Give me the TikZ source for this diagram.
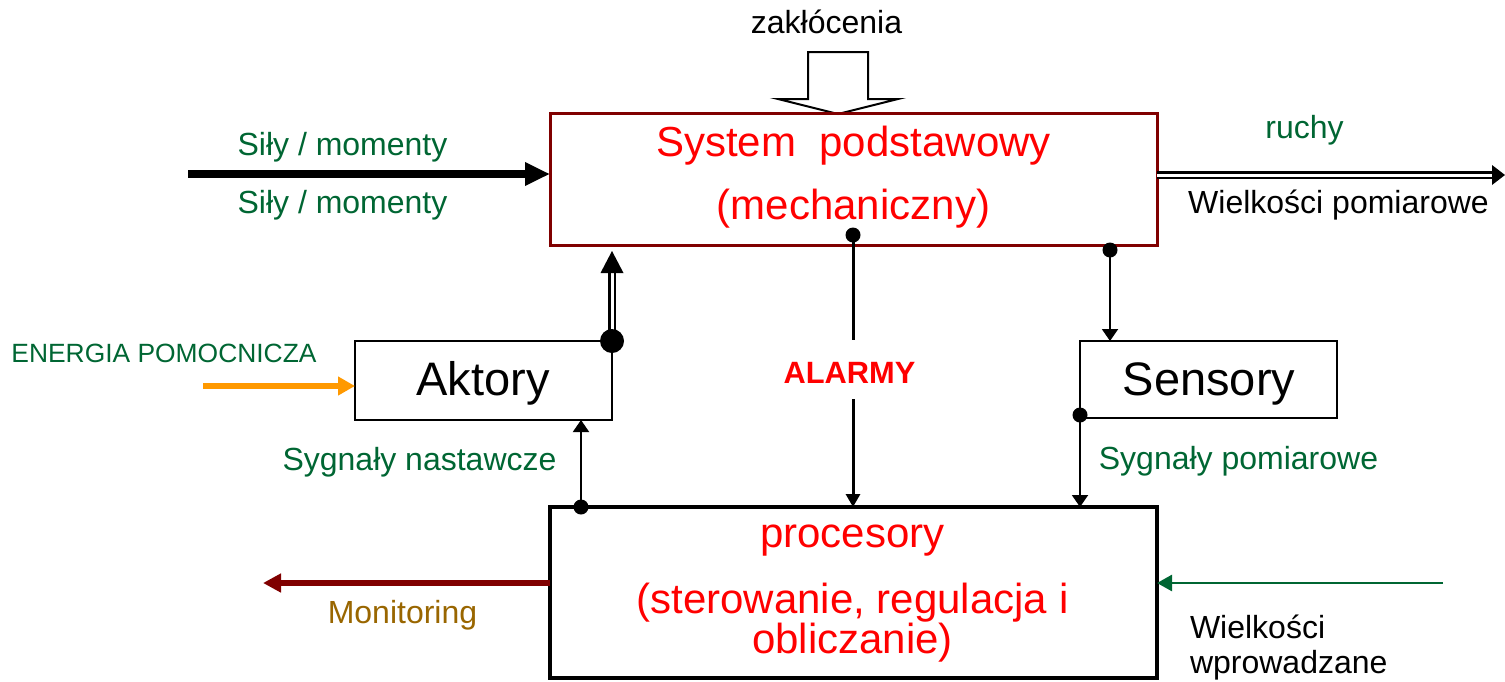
\documentclass[tikz,border=0pt]{standalone}
\usepackage{fontspec}
\setmainfont{Liberation Sans}
\usetikzlibrary{arrows.meta}
\definecolor{framered}{RGB}{128,0,0}
\definecolor{labelgreen}{RGB}{0,102,51}
\definecolor{signalred}{RGB}{255,0,0}
\definecolor{monbrown}{RGB}{153,102,0}
\definecolor{energyorange}{RGB}{255,153,0}
\begin{document}
\begin{tikzpicture}[x=0.5pt,y=-0.5pt,
  every node/.style={inner sep=0pt,outer sep=0pt},
  fs/.style={font=\fontsize{16}{19}\selectfont},
  fl/.style={font=\fontsize{21}{25}\selectfont},
  fb/.style={font=\fontsize{23.5}{28}\selectfont},
  blockbox/.style={draw=black,line width=1pt},
  thinarrow/.style={line width=1pt,-{Triangle[length=6pt,width=8pt]}},
  dblshaft/.style={double,double distance=1.5pt,line width=1.15pt},
]
\useasboundingbox (0,0) rectangle (1505,681);

% disturbance input (hollow block arrow)
\draw[line width=1pt,fill=white] (808,52) -- (868,52) -- (868,99) -- (898,99)
  -- (838,114) -- (778,99) -- (808,99) -- cycle;
\node[fs,anchor=base] (zak) at (826.5,33) {zakłócenia};

% main blocks
\node[draw=framered,line width=1.5pt,minimum width=303.5pt,minimum height=66pt] (sys) at (853.5,179) {};
\node[blockbox,minimum width=128.5pt,minimum height=39.5pt] (akt) at (483.5,380.5) {};
\node[blockbox,minimum width=128.5pt,minimum height=38.5pt] (sen) at (1208.5,379.5) {};
\node[draw=black,line width=1.75pt,minimum width=303.5pt,minimum height=85.5pt] (proc) at (853.5,592.5) {};

% block texts
\node[fl,text=signalred,anchor=base] (systxt) at (853.5,156) {System~~podstawowy};
\node[fl,text=signalred,anchor=base] (sysmech) at (853.5,219) {(mechaniczny)};
\node[fb,anchor=base] (akttxt) at (483,395) {Aktory};
\node[fb,anchor=base] (sentxt) at (1209,395) {Sensory};
\node[fl,text=signalred,anchor=base] (proctxt) at (852.5,547) {procesory};
\node[fl,text=signalred,anchor=base] (proctxtb) at (852.5,613) {(sterowanie, regulacja i};
\node[fl,text=signalred,anchor=base] (proctxtc) at (852.5,653) {obliczanie)};

% forces / moments input
\coordinate (silyStart) at (188,174);
\draw[line width=4pt,-{Triangle[length=12.5pt,width=11pt]}] (silyStart) -- (silyStart -| sys.west);
\node[fs,text=labelgreen,anchor=base] (silyA) at (342.5,155) {Siły / momenty};
\node[fs,text=labelgreen,anchor=base] (silyB) at (342.5,213) {Siły / momenty};

% motion output (double line)
\coordinate (outEnd) at (1505,175);
\coordinate (outHead) at (1492,175);
\draw[dblshaft] (sys.east |- outEnd) -- (outHead);
\fill (outHead) ++(0,-10) -- (outEnd) -- ++(-13,10) -- cycle;
\node[fs,text=labelgreen,anchor=base] (ruchy) at (1304.5,138) {ruchy};
\node[fs,anchor=base] (wpom) at (1338.5,213) {Wielkości pomiarowe};

% actuators drive the mechanical system
\coordinate (dA) at (akt.north east);
\coordinate (aktHead) at (612,273);
\coordinate (aktTip) at (612,251);
\draw[dblshaft] (dA) -- (aktHead);
\fill (aktHead) ++(-11.5,0) -- (aktTip) -- ++(11.5,22) -- cycle;
\fill (dA) circle[radius=6pt];

% auxiliary energy
\coordinate (enStart) at (203,386);
\draw[energyorange,line width=3pt,-{Triangle[length=8.5pt,width=9pt]}] (enStart) -- (enStart -| akt.west);
\node[font=\fontsize{13.2}{16}\selectfont,text=labelgreen,anchor=base] (energia) at (164,362) {ENERGIA POMOCNICZA};

% control signals to actuators
\coordinate (dP) at (581,507);
\draw[thinarrow] (dP) -- (dP |- akt.south);
\fill (dP) circle[radius=3.75pt];
\node[fs,text=labelgreen,anchor=base] (nast) at (419.5,470) {Sygnały nastawcze};

% alarms
\coordinate (dAl) at (853,235);
\coordinate (alTop) at (853,340);
\coordinate (alBot) at (853,399);
\node[font=\bfseries\fontsize{15.4}{18}\selectfont,text=signalred,anchor=base] (alarm) at (849.5,383) {ALARMY};
\draw[line width=1.5pt] (dAl) -- (alTop);
\draw[line width=1.5pt,-{Triangle[length=6.5pt,width=7pt]}] (alBot) -- (alBot |- proc.north);
\fill (dAl) circle[radius=3.75pt];

% sensors
\coordinate (dS1) at (1110,250);
\draw[thinarrow] (dS1) -- (dS1 |- sen.north);
\fill (dS1) circle[radius=3.75pt];
\coordinate (dS2) at (1080,415);
\draw[thinarrow] (dS2) -- (dS2 |- proc.north);
\fill (dS2) circle[radius=3.75pt];
\node[fs,text=labelgreen,anchor=base] (pomiar) at (1238.5,469) {Sygnały pomiarowe};

% monitoring output
\coordinate (monEnd) at (263,583);
\draw[framered,line width=2.75pt,-{Triangle[length=9pt,width=9pt]}] (monEnd -| proc.west) -- (monEnd);
\node[fs,text=monbrown,anchor=base] (monit) at (402.5,623) {Monitoring};

% set-point input
\coordinate (inStart) at (1443,583);
\draw[labelgreen,line width=1.3pt,-{Triangle[length=7.5pt,width=8pt]}] (inStart) -- (inStart -| proc.east);
\node[fs,anchor=base west] (wwpr) at (1190,638) {Wielkości};
\node[fs,anchor=base west] (wwprb) at (1190,673) {wprowadzane};
\end{tikzpicture}
\end{document}
